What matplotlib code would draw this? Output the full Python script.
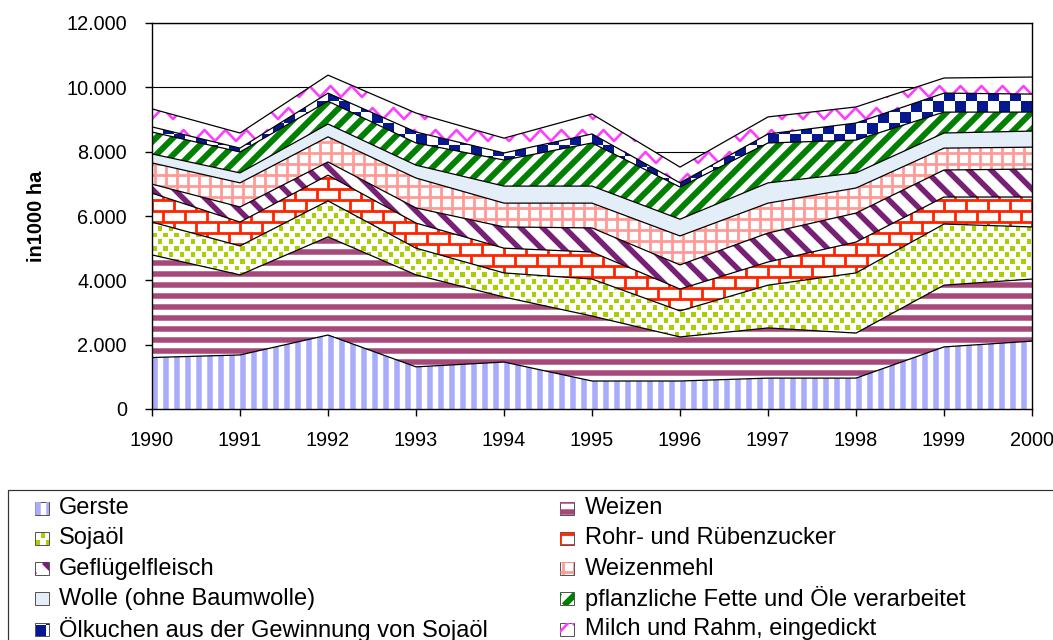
import matplotlib
matplotlib.use("Agg")
import numpy as np
import matplotlib.pyplot as plt
from matplotlib.collections import LineCollection, PolyCollection
from matplotlib.patches import Rectangle
from matplotlib.transforms import IdentityTransform
from matplotlib.ticker import FuncFormatter, MultipleLocator

plt.rcParams["font.family"] = ["Liberation Sans", "DejaVu Sans"]

# ── data (1000 ha) ──────────────────────────────────────────────────────
YEARS = [1990, 1991, 1992, 1993, 1994, 1995, 1996, 1997, 1998, 1999, 2000]
GERSTE     = [1600, 1680, 2300, 1310, 1460,  870,  870,  960,  960, 1930, 2110]
WEIZEN     = [3190, 2490, 3050, 2860, 2020, 2020, 1370, 1560, 1400, 1920, 1930]
SOJAOEL    = [1020,  900, 1120,  830,  750, 1150,  810, 1330, 1870, 1900, 1620]
ZUCKER     = [ 900,  740,  800,  780,  770,  840,  680,  720,  960,  840,  930]
GEFLUEGEL  = [ 280,  470,  410,  470,  660,  750,  750,  900,  900,  840,  870]
WEIZENMEHL = [ 660,  750,  780,  930,  740,  770,  900,  930,  780,  680,  680]
WOLLE      = [ 280,  310,  400,  400,  530,  530,  520,  630,  470,  470,  500]
FETTE      = [ 680,  650,  710,  690,  810, 1340, 1000, 1240, 1020,  650,  590]
OELKUCHEN  = [ 160,  120,  250,  340,  220,  280,  130,  280,  530,  590,  560]
MILCH      = [ 560,  470,  560,  590,  460,  620,  490,  530,  500,  470,  530]

NAMES = ["Gerste", "Weizen", "Sojaöl", "Rohr- und Rübenzucker",
         "Geflügelfleisch", "Weizenmehl", "Wolle (ohne Baumwolle)",
         "pflanzliche Fette und Öle verarbeitet",
         "Ölkuchen aus der Gewinnung von Sojaöl", "Milch und Rahm, eingedickt"]
SERIES = [GERSTE, WEIZEN, SOJAOEL, ZUCKER, GEFLUEGEL, WEIZENMEHL, WOLLE,
          FETTE, OELKUCHEN, MILCH]

W, H, DPI = 1053, 640, 100
PT = 72.0 / DPI   # points per pixel


# ── pixel patterns (Excel-like fills) ───────────────────────────────────
def _lines(segs, color, width_px):
    return LineCollection(segs, colors=color, linewidths=width_px * PT,
                          transform=IdentityTransform(), capstyle="butt")


def _boxes(pts, w, h, color):
    verts = [[(x, y), (x + w, y), (x + w, y + h), (x, y + h)] for x, y in pts]
    return PolyCollection(verts, facecolors=color, edgecolors="none",
                          transform=IdentityTransform())


def vstripes(b, color, period=11, width=5.5):
    xs = np.arange(b[0] + width / 2, b[2] + period, period)
    return [_lines([[(x, b[1]), (x, b[3])] for x in xs], color, width)]


def hstripes(b, color, period=11, width=5.5):
    ys = np.arange(b[1] + width / 2, b[3] + period, period)
    return [_lines([[(b[0], y), (b[2], y)] for y in ys], color, width)]


def diag(b, color, period, width, up=True):
    h = b[3] - b[1]
    cs = np.arange(b[0] - h - period, b[2] + period, period)
    if up:
        segs = [[(c, b[1]), (c + h, b[3])] for c in cs]
    else:
        segs = [[(c, b[3]), (c + h, b[1])] for c in cs]
    return [_lines(segs, color, width)]


def grid(b, color, period=11, width=2.8):
    xs = np.arange(b[0] + 3, b[2] + period, period)
    ys = np.arange(b[1] + 3, b[3] + period, period)
    segs = [[(x, b[1]), (x, b[3])] for x in xs] + [[(b[0], y), (b[2], y)] for y in ys]
    return [_lines(segs, color, width)]


def bricks(b, color, rh=11, bw=22, width=2.8):
    segs = []
    for k, y in enumerate(np.arange(b[1], b[3] + rh, rh)):
        segs.append([(b[0], y), (b[2], y)])
        for x in np.arange(b[0] + (k % 2) * bw / 2, b[2] + bw, bw):
            segs.append([(x, y), (x, y + rh)])
    return [_lines(segs, color, width)]


def confetti(b, color, cw=11, rh=6.6, s=4.8):
    pts = []
    for k, y in enumerate(np.arange(b[1], b[3] + rh, rh)):
        for x in np.arange(b[0] + (k % 2) * cw / 2, b[2] + cw, cw):
            pts.append((x, y))
    return [_boxes(pts, s, s, color)]


def checker(b, color, s=11):
    pts = []
    for j, y in enumerate(np.arange(b[1], b[3] + s, s)):
        for i, x in enumerate(np.arange(b[0], b[2] + s, s)):
            if (i + j) % 2 == 0:
                pts.append((x, y))
    return [_boxes(pts, s, s, color)]


def zigzag(b, color, period=21, amp=11, gap=22, width=2.6):
    xs = np.arange(b[0] - period, b[2] + period, period / 2)
    segs = []
    for y in np.arange(b[1] + 4, b[3] + gap, gap):
        ys = y + amp * (np.arange(len(xs)) % 2)
        segs.append(list(zip(xs, ys)))
    return [_lines(segs, color, width)]


PAINTERS = [
    lambda b: vstripes(b, "#a8acfa"),
    lambda b: hstripes(b, "#a6497a"),
    lambda b: confetti(b, "#a8d000"),
    lambda b: bricks(b, "#ff2400"),
    lambda b: diag(b, "#7a1f78", 22, 5.5, up=False),
    lambda b: grid(b, "#ff9a96"),
    lambda b: [],
    lambda b: diag(b, "#008000", 17, 6, up=True),
    lambda b: checker(b, "#061890"),
    lambda b: zigzag(b, "#ff3cff"),
]
BASE_COLORS = ["white"] * 6 + ["#e4eef9"] + ["white"] * 3

# ── figure ──────────────────────────────────────────────────────────────
fig = plt.figure(figsize=(W / DPI, H / DPI), dpi=DPI)
fig.patch.set_facecolor("white")
ax = fig.add_axes([152 / W, 231 / H, 880 / W, 386 / H])

ax.set_xlim(1990, 2000)
ax.set_ylim(0, 12000)

bands = ax.stackplot(YEARS, *SERIES, colors=BASE_COLORS, linewidth=0, zorder=2)
box = ax.bbox.extents
for band, paint in zip(bands, PAINTERS):
    path = band.get_paths()[0]
    for art in paint(box):
        art.set_zorder(3)
        ax.add_collection(art, autolim=False)
        art.set_clip_path(path, ax.transData)

for top in np.cumsum(SERIES, axis=0):
    ax.plot(YEARS, top, color="black", lw=0.9, zorder=4)

ax.set_xticks(YEARS)
ax.set_xticklabels([str(y) for y in YEARS])
ax.yaxis.set_major_locator(MultipleLocator(2000))
ax.yaxis.set_major_formatter(FuncFormatter(lambda v, _: f"{int(v):,}".replace(",", ".")))
ax.yaxis.grid(True, color="black", lw=0.8)
ax.set_axisbelow(True)
ax.tick_params(axis="both", direction="out", length=5, width=1, labelsize=14.3)
ax.tick_params(axis="y", pad=13)
ax.tick_params(axis="x", pad=11)
for sp in ax.spines.values():
    sp.set_color("black")
    sp.set_linewidth(1.0)
    sp.set_zorder(5)

fig.text(37 / W, 1 - 216 / H, "in1000 ha", rotation=90, fontsize=14.5,
         fontweight="bold", ha="center", va="center")

# ── legend (drawn in figure pixels) ─────────────────────────────────────
fig.add_artist(Rectangle((8, -20), 1100, 170, transform=IdentityTransform(),
                         facecolor="none", edgecolor="#333333", lw=1.2 * PT))
for k, (name, paint, base) in enumerate(zip(NAMES, PAINTERS, BASE_COLORS)):
    row, col = divmod(k, 2)
    yc = H - (508 + row * 30.3)
    sx = 35 if col == 0 else 560
    tx = 59 if col == 0 else 585
    sw = Rectangle((sx, yc - 6.5), 14, 13, transform=IdentityTransform(),
                   facecolor=base, edgecolor="none")
    fig.add_artist(sw)
    for art in paint((sx, yc - 6.5, sx + 14, yc + 6.5)):
        fig.add_artist(art)
        art.set_clip_path(sw)
    fig.add_artist(Rectangle((sx, yc - 6.5), 14, 13, transform=IdentityTransform(),
                             facecolor="none", edgecolor="#555555", lw=1.0 * PT))
    fig.text(tx / W, yc / H, name, fontsize=17, ha="left", va="center")

fig.savefig("out.png", dpi=DPI)
